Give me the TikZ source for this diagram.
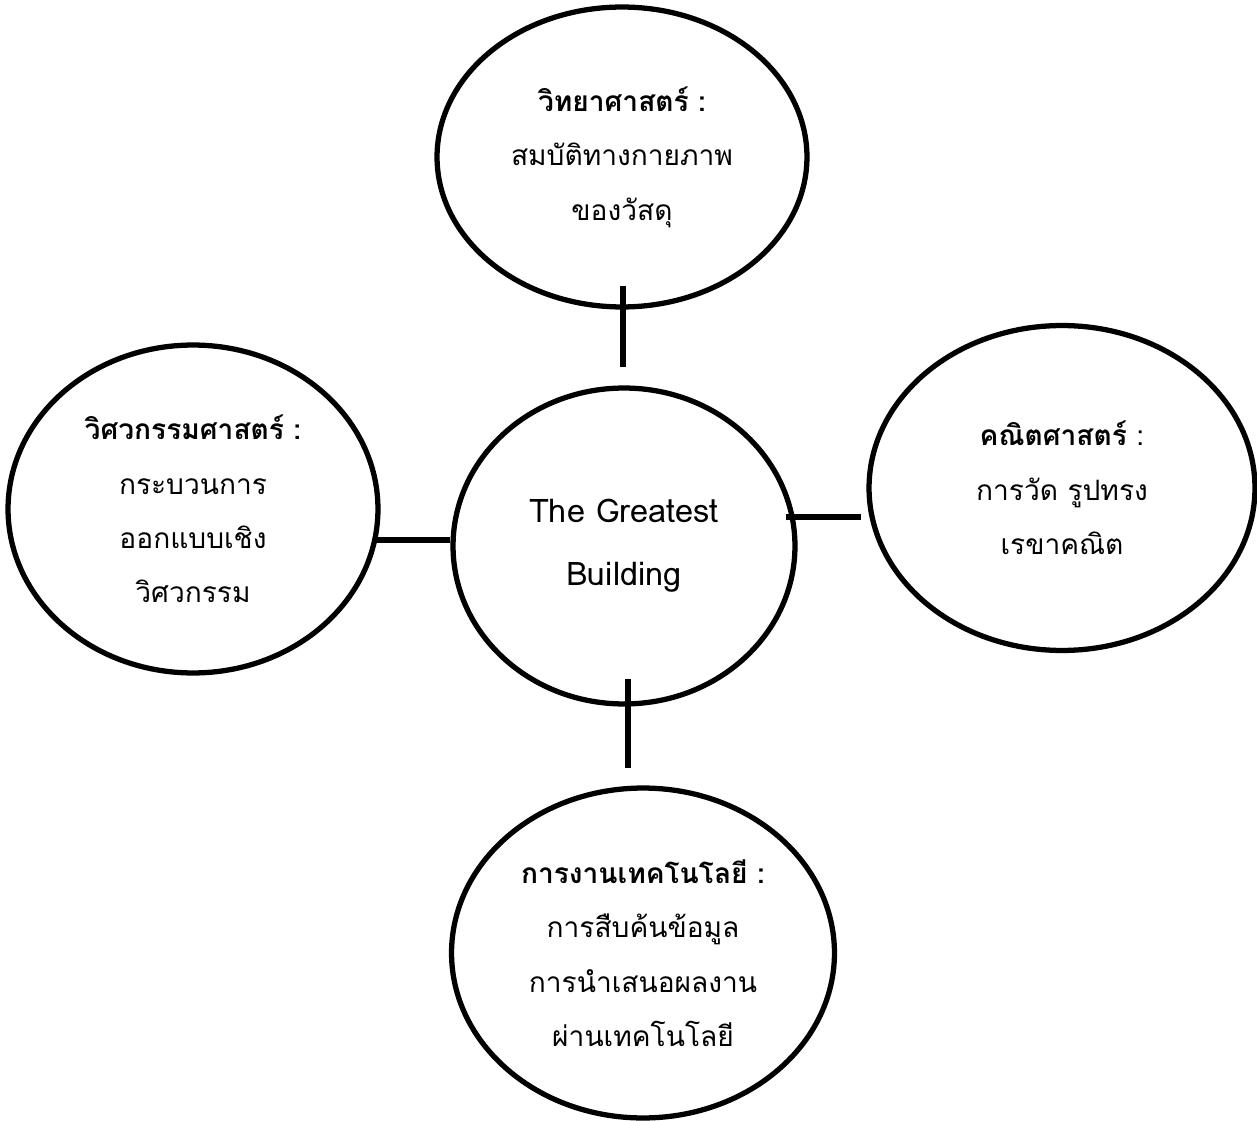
\documentclass[tikz,border=0pt]{standalone}
\usepackage{fontspec}
\setmainfont[Script=Thai]{Loma}
\usepackage{tikz}
\usetikzlibrary{shapes.geometric}

\begin{document}
\begin{tikzpicture}[x=0.02cm, y=-0.02cm,
    bubble/.style={ellipse, draw=black, line width=3pt, fill=white, align=center, inner sep=0pt,
        font=\fontsize{16}{31}\selectfont},
    link/.style={line width=3.2pt}]
    \useasboundingbox (0,0) rectangle (1257,1121);

    % Centre topic
    \node[bubble, minimum width=6.84cm, minimum height=6.32cm,
        font=\fontsize{18.5}{31}\selectfont] (Core) at (624,546)
        {The Greatest\\[5pt]Building};

    % Subjects round it
    \node[bubble, minimum width=7.4cm, minimum height=6.0cm] (Sci) at (622,157)
        {\textbf{วิทยาศาสตร์ :}\\สมบัติทางกายภาพ\\ของวัสดุ};
    \node[bubble, minimum width=7.4cm, minimum height=6.56cm] (Eng) at (193,509)
        {\textbf{วิศวกรรมศาสตร์ :}\\กระบวนการ\\ออกแบบเชิง\\วิศวกรรม};
    \node[bubble, minimum width=7.72cm, minimum height=6.5cm] (Math) at (1062,488)
        {\textbf{คณิตศาสตร์} :\\การวัด รูปทรง\\เรขาคณิต};
    \node[bubble, minimum width=7.66cm, minimum height=6.6cm] (Tech) at (643,953)
        {\textbf{การงานเทคโนโลยี :}\\การสืบค้นข้อมูล\\การนำเสนอผลงาน\\ผ่านเทคโนโลยี};

    % Link ends
    \coordinate (SciEnd) at (623,286);
    \coordinate (SciGap) at (623,367);
    \coordinate (EngEnd) at (377,540);
    \coordinate (EngGap) at (450,540);
    \coordinate (MathEnd) at (861,517);
    \coordinate (MathGap) at (786,517);
    \coordinate (TechEnd) at (628,768);
    \coordinate (TechGap) at (628,679);

    % Links
    \draw[link] (SciEnd) -- (SciGap);
    \draw[link] (EngEnd) -- (EngGap);
    \draw[link] (MathGap) -- (MathEnd);
    \draw[link] (TechGap) -- (TechEnd);
\end{tikzpicture}
\end{document}
